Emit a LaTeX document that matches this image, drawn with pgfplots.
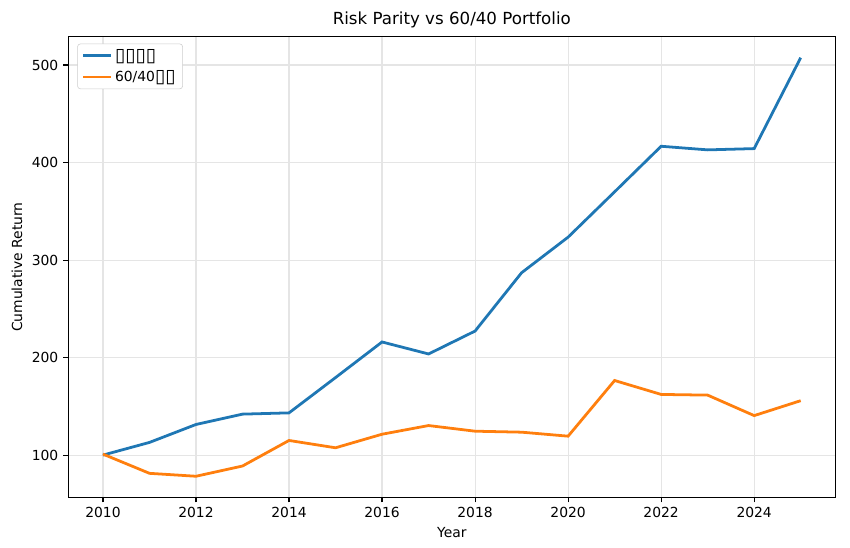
\documentclass[border=0pt]{standalone}
\usepackage{fontspec}
\setmainfont{DejaVu Sans}
\usepackage{pgfplots}
\pgfplotsset{compat=1.18}
\definecolor{c0}{HTML}{1F77B4}
\definecolor{c1}{HTML}{FF7F0E}
\newcommand{\tofu}[1]{{\fontsize{13.5pt}{13.5pt}\selectfont\raisebox{-1pt}{#1}}}
\begin{document}
\begin{tikzpicture}
\begin{axis}[
  scale only axis, width=553pt, height=332pt,
  xmin=2009.25, xmax=2025.75, ymin=56.5, ymax=529,
  xtick={2010,2012,...,2024}, ytick={100,200,...,500},
  /pgf/number format/assume math mode=true,
  x tick label style={/pgf/number format/1000 sep={}},
  tick label style={font=\normalsize},
  grid=major, grid style={line width=0.8pt, color=black!10},
  tick align=outside, major tick length=3.5pt, tick pos=left,
  tick style={line width=0.8pt, black},
  axis line style={line width=0.8pt, black},
  xlabel={Year}, ylabel={Cumulative Return},
  label style={font=\normalsize},
  title={Risk Parity vs 60/40 Portfolio}, title style={font=\large, yshift=-3pt},
  legend style={at={(0.012,0.985)}, anchor=north west, draw=black!20, rounded corners=2pt, font=\normalsize, cells={anchor=west}, row sep=2pt},
  legend image code/.code={\draw[#1, line width=2pt] (0pt,0pt) -- (20pt,0pt);},
]
\addplot[c0, line width=2pt] coordinates {
(2010,100) (2011,113) (2012,131.4) (2013,142) (2014,143.3) (2015,179.5) (2016,216) (2017,203.7) (2018,227.2) (2019,287) (2020,323.5) (2021,370) (2022,416.7) (2023,413) (2024,414.3) (2025,507.5)};
\addlegendentry{\tofu{▯▯▯▯}}
\addplot[c1, line width=2pt] coordinates {
(2010,101) (2011,81.3) (2012,78.3) (2013,88.8) (2014,115) (2015,107.5) (2016,121.4) (2017,130.3) (2018,124.5) (2019,123.5) (2020,119.4) (2021,176.5) (2022,162.2) (2023,161.5) (2024,140.5) (2025,155.8)};
\addlegendentry{60/40\tofu{▯▯}}
\end{axis}
\path (current bounding box.south west) ++(-5pt,-4pt) coordinate (pa);
\path (current bounding box.north east) ++(10pt,5pt) coordinate (pb);
\path (pa) (pb);
\end{tikzpicture}
\end{document}
